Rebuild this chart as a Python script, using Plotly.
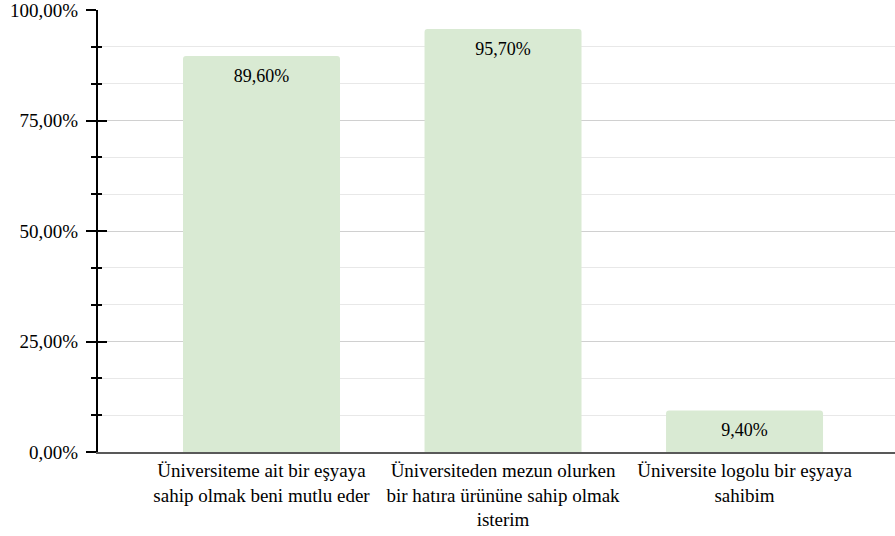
import plotly.graph_objects as go

categories = [
    "Üniversiteme ait bir eşyaya<br>sahip olmak beni mutlu eder",
    "Üniversiteden mezun olurken<br>bir hatıra ürününe sahip olmak<br>isterim",
    "Üniversite logolu bir eşyaya<br>sahibim",
]
values = [0.896, 0.957, 0.094]

FONT = "Liberation Serif, Tinos, FreeSerif, Nimbus Roman, DejaVu Serif"
FS = 19

fig = go.Figure()
fig.add_trace(go.Bar(
    x=[0, 1, 2], y=values,
    marker=dict(color="#d9ead3", cornerradius=3, line=dict(width=0)),
    width=0.65,
    showlegend=False,
))
# value labels just below each bar top
fig.add_trace(go.Scatter(
    x=[0, 1, 2], y=values, mode="markers+text",
    marker=dict(size=18, opacity=0),
    texttemplate="%{y:.2%}", textposition="bottom center",
    textfont=dict(family=FONT, size=FS - 1, color="#000000"),
    showlegend=False, hoverinfo="skip", cliponaxis=False,
))
# invisible trace to carry the second (inside-tick) y axis
fig.add_trace(go.Scatter(x=[0], y=[0], yaxis="y2", mode="markers",
                         marker=dict(opacity=0), showlegend=False, hoverinfo="skip"))

fig.update_layout(
    width=895, height=536,
    margin=dict(l=98, r=0, t=10, b=84),
    paper_bgcolor="white", plot_bgcolor="white",
    separators=",.",
    font=dict(family=FONT, size=FS, color="#000000"),
    xaxis=dict(
        range=[-0.677, 2.623], automargin=False, tickangle=0,
        tickmode="array", tickvals=[0, 1, 2], ticktext=categories,
        showgrid=False, zeroline=False,
        showline=True, linecolor="#595959", linewidth=2,
        ticks="", tickfont=dict(family=FONT, size=FS, color="#000000"),
    ),
    yaxis=dict(
        range=[0, 1], tickformat=".2%", dtick=0.25, tick0=0, automargin=False,
        ticklabeloverflow="allow",
        showgrid=True, gridcolor="#d0d0d0", gridwidth=1,
        zeroline=False,
        showline=True, linecolor="#000000", linewidth=2,
        ticks="outside", ticklen=10, tickwidth=2, tickcolor="#000000",
        ticklabelstandoff=4,
        minor=dict(dtick=1/12, tick0=0, showgrid=True, gridcolor="#e8e8e8",
                   ticks="outside", ticklen=5, tickwidth=2, tickcolor="#000000"),
        tickfont=dict(family=FONT, size=FS, color="#000000"),
    ),
    yaxis2=dict(
        range=[0, 1], overlaying="y", side="left", dtick=0.25, tick0=0,
        automargin=False,
        showgrid=False, zeroline=False, showline=False, showticklabels=False,
        ticks="inside", ticklen=9, tickwidth=2, tickcolor="#000000",
        minor=dict(dtick=1/12, tick0=0, showgrid=False,
                   ticks="inside", ticklen=4, tickwidth=2, tickcolor="#000000"),
    ),
    bargap=0.35,
)

fig.write_html("out.html", config={"displayModeBar": False},
               post_script="document.body.style.margin='0';")
